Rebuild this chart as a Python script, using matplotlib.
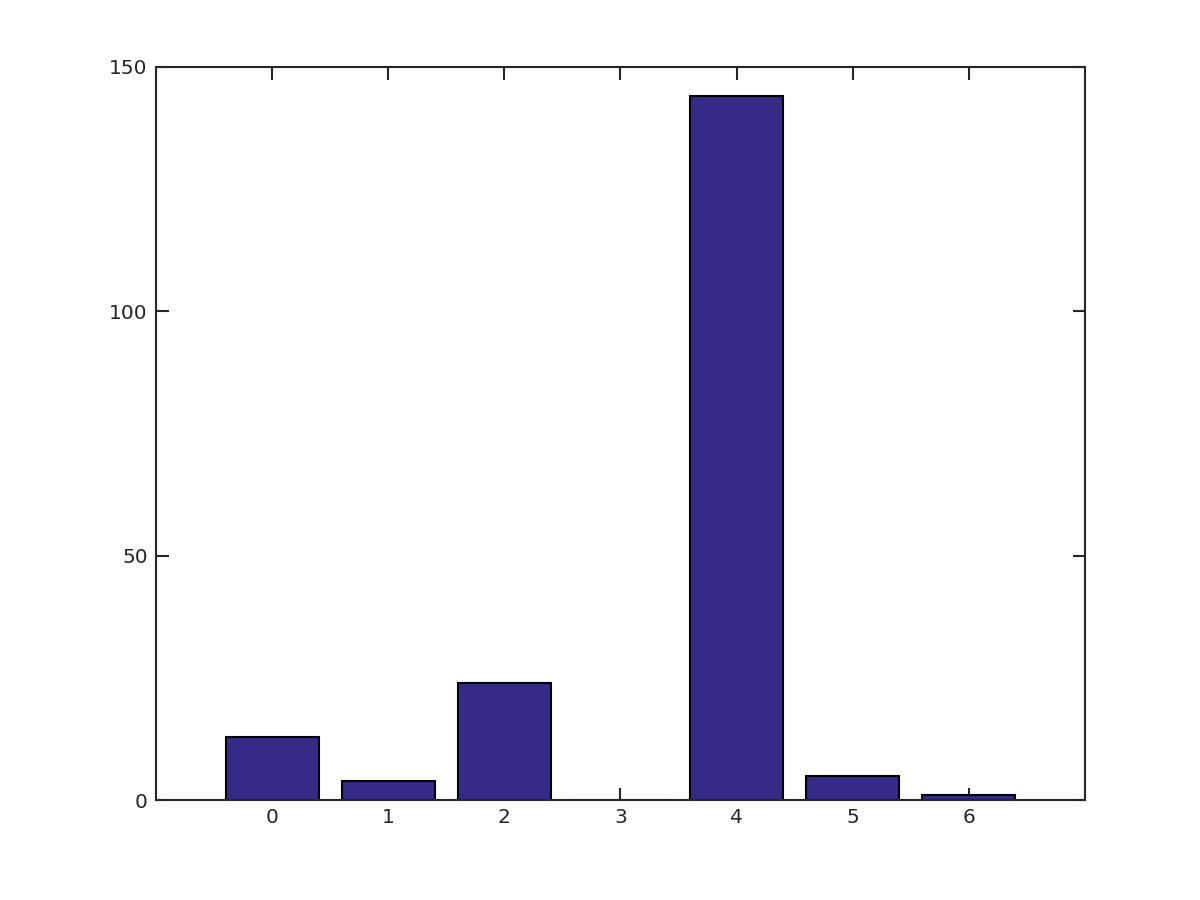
import matplotlib
matplotlib.use('Agg')
import matplotlib.pyplot as plt

categories = [0, 1, 2, 3, 4, 5, 6]
counts = [13, 4, 24, 0, 144, 5, 1]

fig = plt.figure(figsize=(12, 9), dpi=100)
ax = fig.add_axes([0.13, 0.111, 0.774, 0.815])

ax.bar(categories, counts, width=0.8, color='#352a87', edgecolor='black', linewidth=1.5)

ax.set_xlim(-1, 7)
ax.set_ylim(0, 150)
ax.set_xticks(categories)
ax.set_yticks([0, 50, 100, 150])
ax.set_axisbelow(True)  # bars hide the ticks, as in the original

for s in ax.spines.values():
    s.set_linewidth(1.5)
    s.set_color('#262626')
ax.tick_params(direction='in', length=9, width=1.5, color='#262626',
               top=True, right=True, labelsize=14.5, labelcolor='#262626', pad=6)

fig.savefig('out.png', dpi=100)
